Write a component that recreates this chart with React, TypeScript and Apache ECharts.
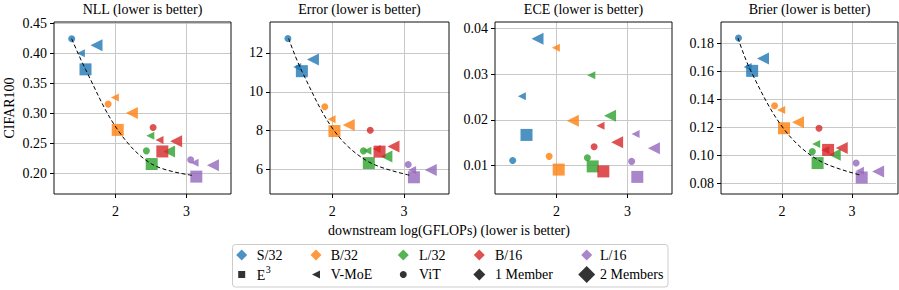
import React, { useEffect, useRef } from 'react';
import * as echarts from 'echarts';

// ---------------- data ----------------
const models = ['S/32', 'B/32', 'L/32', 'B/16', 'L/16'];
const modelColors = ['#1f77b4', '#ff7f0e', '#2ca02c', '#d62728', '#9467bd'];

// downstream log(GFLOPs)
const flopsViT = [1.38, 1.895, 2.435, 2.53, 3.06];
const flopsVMoE1 = [1.51, 1.99, 2.49, 2.62, 3.115];
const flopsVMoE2 = [1.73, 2.23, 2.755, 2.855, 3.375];
const flopsE3 = [1.575, 2.03, 2.51, 2.66, 3.14];

// NLL
const nllViT = [0.424, 0.315, 0.237, 0.276, 0.222];
const nllVMoE1 = [0.4, 0.326, 0.262, 0.255, 0.217];
const nllVMoE2 = [0.413, 0.3, 0.236, 0.253, 0.213];
const nllE3 = [0.373, 0.272, 0.215, 0.236, 0.194];
const nllFrontierX = [1.38, 1.575, 2.03, 2.51, 3.09];
const nllFrontierY = [0.424, 0.373, 0.272, 0.215, 0.196];

// Error
const errViT = [12.74, 9.23, 6.96, 8.02, 6.26];
const errVMoE1 = [11.28, 8.58, 6.96, 7.06, 5.98];
const errVMoE2 = [11.66, 8.29, 6.67, 7.18, 5.98];
const errE3 = [11.06, 7.98, 6.33, 6.92, 5.6];
const errFrontierX = [1.39, 1.575, 2.03, 2.5, 3.1];
const errFrontierY = [12.74, 11.06, 7.98, 6.41, 5.69];

// ECE
const eceViT = [0.0111, 0.012, 0.0117, 0.0141, 0.0109];
const eceVMoE1 = [0.0252, 0.0358, 0.0298, 0.0187, 0.0169];
const eceVMoE2 = [0.0378, 0.0198, 0.0209, 0.0151, 0.0138];
const eceE3 = [0.0167, 0.0091, 0.0098, 0.0087, 0.0075];

// Brier
const brierViT = [0.184, 0.1356, 0.1028, 0.1195, 0.0946];
const brierVMoE1 = [0.1633, 0.1325, 0.1083, 0.104, 0.0891];
const brierVMoE2 = [0.1693, 0.1238, 0.1005, 0.1053, 0.0886];
const brierE3 = [0.1605, 0.1195, 0.0946, 0.104, 0.0843];
const brierFrontierX = [1.372, 1.555, 2.02, 2.51, 3.14];
const brierFrontierY = [0.184, 0.1605, 0.1195, 0.097, 0.0858];

// axes
const panelTitles = ['NLL (lower is better)', 'Error (lower is better)', 'ECE (lower is better)', 'Brier (lower is better)'];
const xTicks = [2, 3];
const xRange = [1.13, 3.63];
const nllTicks = [0.2, 0.25, 0.3, 0.35, 0.4, 0.45];
const nllRange = [0.165, 0.452];
const errTicks = [6, 8, 10, 12];
const errRange = [4.74, 13.59];
const eceTicks = [0.01, 0.02, 0.03, 0.04];
const eceRange = [0.00375, 0.04145];
const brierTicks = [0.08, 0.1, 0.12, 0.14, 0.16, 0.18];
const brierRange = [0.0725, 0.1954];

const yLabel = 'CIFAR100';
const xLabel = 'downstream log(GFLOPs) (lower is better)';
const legendModels = models;
const legendTypes = ['E', 'V-MoE', 'ViT', '1 Member', '2 Members'];

// ---------------- layout ----------------
const FONT = 'Liberation Serif';
const GRIDS = [
  { left: 54, top: 22, width: 177, height: 172 },
  { left: 270, top: 22, width: 179, height: 172 },
  { left: 495, top: 22, width: 177, height: 172 },
  { left: 721, top: 22, width: 177, height: 172 },
];
const TRI_LEFT = 'path://M0,5L10,0L10,10Z';

type Panel = {
  vit: number[]; v1: number[]; v2: number[]; e3: number[];
  fx?: number[]; fy?: number[];
  range: number[]; ticks: number[]; fmt: (v: number) => string;
};

const panels: Panel[] = [
  { vit: nllViT, v1: nllVMoE1, v2: nllVMoE2, e3: nllE3, fx: nllFrontierX, fy: nllFrontierY, range: nllRange, ticks: nllTicks, fmt: (v) => v.toFixed(2) },
  { vit: errViT, v1: errVMoE1, v2: errVMoE2, e3: errE3, fx: errFrontierX, fy: errFrontierY, range: errRange, ticks: errTicks, fmt: (v) => String(Math.round(v)) },
  { vit: eceViT, v1: eceVMoE1, v2: eceVMoE2, e3: eceE3, range: eceRange, ticks: eceTicks, fmt: (v) => v.toFixed(2) },
  { vit: brierViT, v1: brierVMoE1, v2: brierVMoE2, e3: brierE3, fx: brierFrontierX, fy: brierFrontierY, range: brierRange, ticks: brierTicks, fmt: (v) => v.toFixed(2) },
];

const markerTypes = [
  { key: 'vit', xs: flopsViT, symbol: 'circle', size: 7 },
  { key: 'v1', xs: flopsVMoE1, symbol: TRI_LEFT, size: [8, 8] },
  { key: 'v2', xs: flopsVMoE2, symbol: TRI_LEFT, size: [12, 12] },
  { key: 'e3', xs: flopsE3, symbol: 'rect', size: 12 },
];

const onTick = (ticks: number[], v: number) => ticks.some((t) => Math.abs(t - v) < 1e-9);
const tickRich = { t: { fontFamily: FONT, fontSize: 14, color: '#000', lineHeight: 16 } };

function buildOption() {
  const xAxis: any[] = [];
  const yAxis: any[] = [];
  const series: any[] = [];
  const graphic: any[] = [];

  panels.forEach((p, i) => {
    const xInt = xTicks[1] - xTicks[0];
    const yInt = +(p.ticks[1] - p.ticks[0]).toFixed(6);
    xAxis.push({
      gridIndex: i, type: 'value', min: xRange[0], max: xRange[1],
      minInterval: xInt, maxInterval: xInt,
      axisLine: { show: false },
      axisTick: { show: true, length: 4, lineStyle: { color: '#000', width: 1 }, customValues: xTicks },
      axisLabel: {
        interval: 0, hideOverlap: false,
        fontFamily: FONT, fontSize: 14, color: '#000', margin: 9,
        formatter: (v: number) => (onTick(xTicks, v) ? `{t|${v}}` : ''),
        rich: tickRich,
      },
      splitLine: { show: true, lineStyle: { color: '#c8c8c8', width: 1 } },
    });
    yAxis.push({
      gridIndex: i, type: 'value', min: p.range[0], max: p.range[1],
      minInterval: yInt, maxInterval: yInt,
      axisLine: { show: false },
      axisTick: { show: true, length: 4, lineStyle: { color: '#000', width: 1 }, customValues: p.ticks },
      axisLabel: {
        interval: 0, hideOverlap: false,
        fontFamily: FONT, fontSize: 14, color: '#000', margin: 7,
        formatter: (v: number) => (onTick(p.ticks, v) ? `{t|${p.fmt(v)}}` : ''),
        rich: tickRich,
      },
      splitLine: { show: true, lineStyle: { color: '#c8c8c8', width: 1 } },
    });

    markerTypes.forEach((mt) => {
      const ys = (p as any)[mt.key] as number[];
      series.push({
        type: 'scatter', xAxisIndex: i, yAxisIndex: i, symbol: mt.symbol, symbolSize: mt.size,
        silent: true, z: 2,
        data: models.map((m, k) => ({ name: m, value: [mt.xs[k], ys[k]], itemStyle: { color: modelColors[k], opacity: 0.8 } })),
      });
    });
    if (p.fx && p.fy) {
      series.push({
        type: 'line', xAxisIndex: i, yAxisIndex: i, smooth: 0.35, symbol: 'none', silent: true, z: 5,
        lineStyle: { color: '#000', width: 1, type: [4, 2.5] },
        data: p.fx.map((x, k) => [x, p.fy![k]]),
      });
    }

    const g = GRIDS[i];
    graphic.push({
      type: 'rect', z: 50, silent: true,
      shape: { x: g.left, y: g.top, width: g.width, height: g.height },
      style: { fill: 'none', stroke: '#111', lineWidth: 1 },
    });
    graphic.push({
      type: 'text', z: 50, x: g.left + g.width / 2, y: 9,
      style: { text: panelTitles[i], fontFamily: FONT, fontSize: 14, fill: '#000', align: 'center', verticalAlign: 'middle' },
    });
  });

  graphic.push({
    type: 'text', z: 50, x: 9, y: 108, rotation: Math.PI / 2,
    style: { text: yLabel, fontFamily: FONT, fontSize: 14, fill: '#000', align: 'center', verticalAlign: 'middle' },
  });
  graphic.push({
    type: 'text', z: 50, x: 449, y: 230,
    style: { text: xLabel, fontFamily: FONT, fontSize: 14, fill: '#000', align: 'center', verticalAlign: 'middle' },
  });

  // legend
  graphic.push({
    type: 'rect', z: 40,
    shape: { x: 232.5, y: 244.5, width: 435.5, height: 42.5, r: 3 },
    style: { fill: '#fff', stroke: '#cccccc', lineWidth: 1 },
  });
  const iconX = [241.7, 316, 403.3, 479.3, 586.7];
  const textX = [256.7, 330.7, 419, 495, 600];
  const rowY = [255, 274.5];
  const diamond = (cx: number, cy: number, r: number) => [[cx, cy - r], [cx + r, cy], [cx, cy + r], [cx - r, cy]];
  const txt = (x: number, y: number, text: string, size = 14) => ({
    type: 'text', z: 60, x, y,
    style: { text, fontFamily: FONT, fontSize: size, fill: '#000', align: 'left', verticalAlign: 'middle' },
  });
  legendModels.forEach((m, k) => {
    graphic.push({ type: 'polygon', z: 60, shape: { points: diamond(iconX[k], rowY[0], 5.5) }, style: { fill: modelColors[k], opacity: 0.8 } });
    graphic.push(txt(textX[k], rowY[0], m));
  });
  const dark = '#000';
  // E3
  graphic.push({ type: 'rect', z: 60, shape: { x: iconX[0] - 3.5, y: rowY[1] - 3.5, width: 7, height: 7 }, style: { fill: dark, opacity: 0.8 } });
  graphic.push(txt(textX[0], rowY[1] + 1, legendTypes[0]));
  graphic.push(txt(textX[0] + 9, rowY[1] - 5, '3', 10));
  // V-MoE
  graphic.push({ type: 'polygon', z: 60, shape: { points: [[iconX[1] - 4, rowY[1]], [iconX[1] + 4, rowY[1] - 4], [iconX[1] + 4, rowY[1] + 4]] }, style: { fill: dark, opacity: 0.8 } });
  graphic.push(txt(textX[1], rowY[1], legendTypes[1]));
  // ViT
  graphic.push({ type: 'circle', z: 60, shape: { cx: iconX[2], cy: rowY[1], r: 3.5 }, style: { fill: dark, opacity: 0.8 } });
  graphic.push(txt(textX[2], rowY[1], legendTypes[2]));
  // members
  graphic.push({ type: 'polygon', z: 60, shape: { points: diamond(iconX[3], rowY[1], 6) }, style: { fill: dark, opacity: 0.8 } });
  graphic.push(txt(textX[3], rowY[1], legendTypes[3]));
  graphic.push({ type: 'polygon', z: 60, shape: { points: diamond(iconX[4], rowY[1], 8.5) }, style: { fill: dark, opacity: 0.8 } });
  graphic.push(txt(textX[4], rowY[1], legendTypes[4]));

  return {
    animation: false,
    backgroundColor: '#fff',
    textStyle: { fontFamily: FONT },
    grid: GRIDS.map((g) => ({ ...g, containLabel: false })),
    xAxis, yAxis, series, graphic,
  };
}

export default function App() {
  const ref = useRef<HTMLDivElement>(null);
  useEffect(() => {
    if (!ref.current) return;
    const chart = echarts.init(ref.current, undefined, { renderer: 'svg' });
    chart.setOption(buildOption() as any);
    return () => chart.dispose();
  }, []);
  return <div ref={ref} style={{ position: 'fixed', left: 0, top: 0, width: 899, height: 290 }} />;
}
